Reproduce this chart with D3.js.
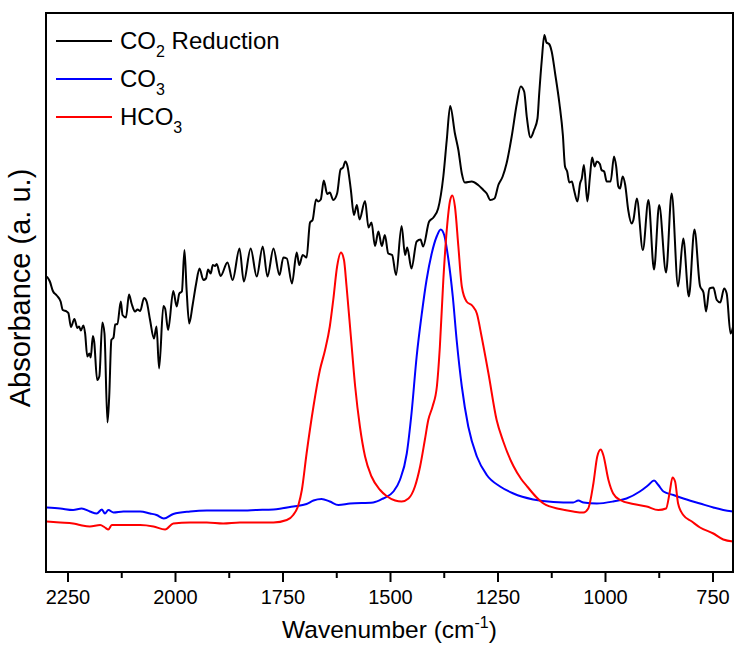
<!DOCTYPE html>
<html>
<head>
<meta charset="utf-8">
<script src="https://cdn.jsdelivr.net/npm/d3@7/dist/d3.min.js"></script>
<style>
  html, body { margin: 0; padding: 0; background: #fff; }
  svg { display: block; }
  text { font-family: Arial, "Liberation Sans", sans-serif; fill: #000; }
</style>
</head>
<body>
<svg id="chart" width="734" height="647"></svg>
<script>
// ---------------- DATA ----------------
const seriesNames = ["CO2 Reduction", "CO3", "HCO3"];
const xTicksMajor = [2250, 2000, 1750, 1500, 1250, 1000, 750];
const xTicksMinor = [2125, 1875, 1625, 1375, 1125, 875];

const co2Wn = [2298,2291,2284,2275,2266,2261,2252,2248,2242,2234,2227,2223,2219,2213,2209,2204,2199,2196,2191,2188,2181,2176,2169,2164,2157,2153,2148,2143,2139,2134,2126,2122,2114,2107,2101,2093,2087,2081,2072,2066,2058,2049,2043,2037,2027,2023,2016,2004,1996,1990,1984,1978,1973,1967,1959,1951,1943,1934,1928,1923,1917,1912,1907,1903,1894,1878,1866,1850,1840,1824,1810,1796,1785,1771,1757,1748,1740,1728,1717,1711,1703,1694,1686,1680,1672,1667,1661,1654,1646,1640,1632,1623,1615,1609,1604,1599,1591,1584,1577,1571,1558,1550,1543,1535,1527,1519,1512,1504,1495,1486,1473,1465,1460,1450,1438,1429,1423,1409,1399,1388,1376,1368,1360,1349,1341,1333,1326,1310,1295,1283,1275,1267,1257,1248,1238,1229,1217,1205,1196,1188,1182,1173,1165,1157,1153,1147,1141,1136,1130,1124,1116,1106,1098,1093,1088,1083,1077,1072,1064,1058,1054,1049,1041,1035,1030,1024,1019,1012,1008,1002,996,987,979,974,969,965,959,953,946,938,934,926,912,899,886,874,858,845,830,818,805,792,779,771,765,757,748,740,732,723,717,708,702];
const co2Abs = [0.591,0.581,0.562,0.553,0.541,0.524,0.521,0.518,0.490,0.506,0.488,0.491,0.483,0.493,0.477,0.431,0.437,0.429,0.472,0.461,0.384,0.391,0.499,0.477,0.299,0.351,0.464,0.469,0.495,0.496,0.541,0.514,0.509,0.555,0.537,0.521,0.525,0.522,0.548,0.541,0.504,0.467,0.491,0.407,0.532,0.527,0.484,0.562,0.531,0.557,0.561,0.644,0.564,0.497,0.534,0.576,0.607,0.584,0.587,0.605,0.597,0.614,0.612,0.616,0.592,0.619,0.584,0.647,0.581,0.647,0.591,0.651,0.591,0.647,0.594,0.629,0.627,0.577,0.639,0.614,0.634,0.629,0.699,0.704,0.745,0.741,0.745,0.783,0.756,0.759,0.744,0.757,0.805,0.809,0.821,0.812,0.764,0.714,0.734,0.705,0.742,0.689,0.699,0.652,0.681,0.652,0.674,0.637,0.634,0.594,0.692,0.634,0.649,0.607,0.661,0.665,0.651,0.701,0.709,0.727,0.791,0.864,0.932,0.877,0.844,0.797,0.779,0.781,0.774,0.764,0.757,0.744,0.747,0.774,0.791,0.817,0.871,0.937,0.971,0.961,0.911,0.869,0.884,0.907,0.957,1.024,1.074,1.059,1.056,1.041,0.997,0.937,0.874,0.811,0.801,0.779,0.781,0.764,0.741,0.777,0.787,0.814,0.741,0.791,0.829,0.811,0.821,0.816,0.804,0.801,0.781,0.781,0.831,0.811,0.771,0.767,0.791,0.774,0.724,0.697,0.704,0.747,0.644,0.744,0.605,0.734,0.599,0.757,0.571,0.667,0.551,0.685,0.572,0.559,0.521,0.567,0.569,0.544,0.539,0.567,0.557,0.477,0.491];

const co3Wn = [2298,2267,2237,2217,2198,2182,2170,2163,2155,2143,2120,2081,2058,2043,2026,2004,1965,1926,1888,1849,1810,1771,1725,1694,1678,1659,1640,1620,1593,1539,1516,1492,1477,1461,1450,1438,1426,1415,1403,1391,1382,1374,1364,1354,1345,1333,1318,1298,1275,1244,1213,1167,1120,1074,1062,1050,1019,981,950,919,899,886,876,864,841,810,779,748,725,702];
const co3Abs = [0.129,0.127,0.124,0.127,0.121,0.117,0.125,0.117,0.124,0.119,0.121,0.121,0.117,0.114,0.107,0.116,0.121,0.123,0.123,0.123,0.124,0.125,0.131,0.136,0.143,0.146,0.141,0.134,0.137,0.139,0.147,0.161,0.184,0.237,0.317,0.431,0.517,0.584,0.637,0.672,0.685,0.674,0.624,0.551,0.464,0.371,0.291,0.231,0.194,0.171,0.157,0.145,0.140,0.139,0.143,0.139,0.137,0.141,0.147,0.161,0.174,0.183,0.174,0.161,0.154,0.145,0.137,0.129,0.124,0.121];

const hco3Wn = [2298,2267,2237,2221,2198,2174,2163,2155,2147,2120,2081,2050,2023,2004,1965,1926,1888,1849,1810,1771,1740,1725,1713,1705,1694,1678,1663,1651,1640,1632,1623,1614,1607,1601,1591,1581,1570,1558,1543,1523,1508,1488,1473,1457,1442,1430,1419,1411,1401,1391,1384,1376,1368,1360,1355,1349,1341,1333,1322,1308,1298,1287,1271,1252,1237,1213,1195,1180,1160,1143,1105,1074,1050,1039,1027,1018,1010,1004,992,981,965,934,903,876,858,850,843,837,830,818,798,779,748,725,702];
const hco3Abs = [0.101,0.099,0.097,0.094,0.091,0.094,0.089,0.085,0.094,0.094,0.094,0.091,0.085,0.097,0.099,0.099,0.097,0.099,0.099,0.099,0.104,0.114,0.134,0.164,0.237,0.331,0.404,0.444,0.491,0.544,0.611,0.639,0.624,0.571,0.471,0.371,0.291,0.231,0.191,0.164,0.152,0.143,0.141,0.147,0.171,0.211,0.264,0.304,0.331,0.371,0.451,0.584,0.684,0.744,0.753,0.731,0.651,0.571,0.541,0.532,0.517,0.471,0.397,0.304,0.262,0.212,0.186,0.170,0.150,0.137,0.126,0.121,0.119,0.127,0.177,0.231,0.245,0.234,0.184,0.157,0.144,0.136,0.131,0.124,0.127,0.157,0.189,0.181,0.137,0.114,0.101,0.089,0.077,0.065,0.061];

const seriesColors = ["#000000", "#0000ff", "#ff0000"];

// ---------------- CHART ----------------
const svg = d3.select("#chart");
const plot = { left: 46, right: 733, top: 13, bottom: 572 };

const x = d3.scaleLinear().domain([2300, 700]).range([plot.left, plot.right + 1]);
const y = d3.scaleLinear().domain([0, 1.12]).range([plot.bottom, plot.top - 1]);

const series = [
  { name: seriesNames[0], wn: co2Wn, ab: co2Abs, color: seriesColors[0] },
  { name: seriesNames[1], wn: co3Wn, ab: co3Abs, color: seriesColors[1] },
  { name: seriesNames[2], wn: hco3Wn, ab: hco3Abs, color: seriesColors[2] }
];

svg.append("defs").append("clipPath").attr("id", "clip")
  .append("rect")
  .attr("x", plot.left).attr("y", plot.top)
  .attr("width", plot.right - plot.left).attr("height", plot.bottom - plot.top);

const line = d3.line()
  .x(d => x(d[0]))
  .y(d => y(d[1]))
  .curve(d3.curveMonotoneX);

const g = svg.append("g").attr("clip-path", "url(#clip)");
series.forEach(s => {
  const pts = s.wn.map((w, i) => [w, s.ab[i]]);
  g.append("path")
    .datum(pts)
    .attr("fill", "none")
    .attr("stroke", s.color)
    .attr("stroke-width", 2)
    .attr("stroke-linejoin", "round")
    .attr("d", line);
});

// frame
svg.append("rect")
  .attr("x", plot.left).attr("y", plot.top)
  .attr("width", plot.right - plot.left).attr("height", plot.bottom - plot.top)
  .attr("fill", "none").attr("stroke", "#000").attr("stroke-width", 2);

// x axis
const xAxis = d3.axisBottom(x).tickValues(xTicksMajor).tickSize(10).tickPadding(8).tickFormat(d3.format("d"));
const ax = svg.append("g").attr("transform", `translate(0,${plot.bottom})`).call(xAxis);
ax.select(".domain").remove();
ax.selectAll(".tick line").attr("stroke", "#000").attr("stroke-width", 2);
ax.selectAll(".tick text").style("font-size", "20px").style("font-family", "Arial, 'Liberation Sans', sans-serif").attr("fill", "#000");

const xMinor = d3.axisBottom(x).tickValues(xTicksMinor).tickSize(6).tickFormat("");
const axm = svg.append("g").attr("transform", `translate(0,${plot.bottom})`).call(xMinor);
axm.select(".domain").remove();
axm.selectAll(".tick line").attr("stroke", "#000").attr("stroke-width", 2);

// axis titles
const xt = svg.append("text")
  .attr("x", (plot.left + plot.right) / 2).attr("y", 638)
  .attr("text-anchor", "middle").style("font-size", "24.5px");
xt.append("tspan").text("Wavenumber (cm");
xt.append("tspan").attr("dy", -10).style("font-size", "16px").text("-1");
xt.append("tspan").attr("dy", 10).text(")");

svg.append("text")
  .attr("transform", `translate(30,288) rotate(-90)`)
  .attr("text-anchor", "middle").style("font-size", "29px")
  .text("Absorbance (a. u.)");

// legend
const legendLabels = [
  [["CO", 0], ["2", 1], [" Reduction", 0]],
  [["CO", 0], ["3", 1]],
  [["HCO", 0], ["3", 1]]
];
const lg = svg.append("g");
series.forEach((s, i) => {
  const yy = 41 + i * 38;
  lg.append("line").attr("x1", 56).attr("x2", 112).attr("y1", yy).attr("y2", yy)
    .attr("stroke", s.color).attr("stroke-width", 2);
  const t = lg.append("text").attr("x", 120).attr("y", yy + 8).style("font-size", "24px");
  let down = false;
  legendLabels[i].forEach(([txt, sub]) => {
    const ts = t.append("tspan").text(txt);
    if (sub) { ts.attr("dy", 8).style("font-size", "16px"); down = true; }
    else if (down) { ts.attr("dy", -8); down = false; }
  });
});
</script>
</body>
</html>
